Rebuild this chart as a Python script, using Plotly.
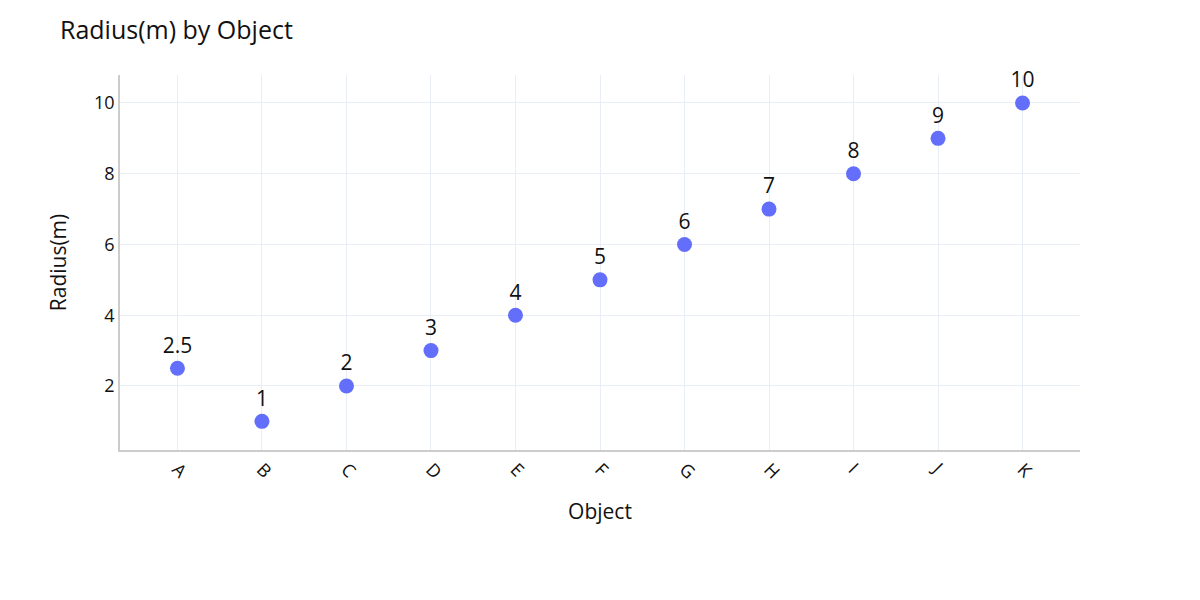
import plotly.graph_objects as go

objects = ["A", "B", "C", "D", "E", "F", "G", "H", "I", "J", "K"]
radius = [2.5, 1, 2, 3, 4, 5, 6, 7, 8, 9, 10]
labels = ["2.5", "1", "2", "3", "4", "5", "6", "7", "8", "9", "10"]

fig = go.Figure(go.Scatter(
    x=objects, y=radius, mode="markers+text", text=labels,
    textposition="top center", cliponaxis=False,
    textfont=dict(size=21, color="#111"),
    marker=dict(color="#636efa", size=15),
))

fig.update_layout(
    template="plotly_white",
    width=1200, height=600,
    font=dict(family="Open Sans, Noto Sans, sans-serif", color="#111"),
    title=dict(text="Radius(m) by Object", x=0.05, xanchor="left",
               y=0.95, yanchor="middle",
               font=dict(size=25, color="#111")),
    margin=dict(l=120, r=120, t=75, b=150),
    showlegend=False,
    xaxis=dict(title=dict(text="Object", font=dict(size=21), standoff=22),
               tickangle=45,
               tickfont=dict(size=18), showline=True, linecolor="#cccccc",
               linewidth=1.5, gridcolor="#E8EDF6", range=[-0.68, 10.68]),
    yaxis=dict(title=dict(text="Radius(m)", font=dict(size=21), standoff=22),
               tickfont=dict(size=18), showline=True, linecolor="#cccccc",
               linewidth=1.5, gridcolor="#E8EDF6", zeroline=False,
               range=[0.19, 10.79], tickvals=[2, 4, 6, 8, 10]),
)

fig.write_html("out.html", config={"displayModeBar": False},
               post_script="document.body.style.margin='0';")
